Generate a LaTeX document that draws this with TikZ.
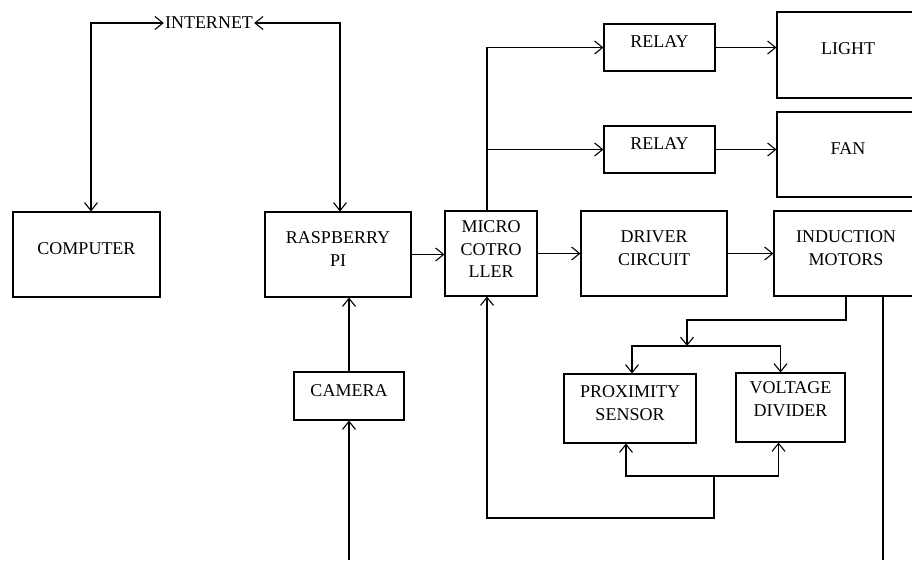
\documentclass[tikz,border=0pt]{standalone}
\usepackage{fontspec}
\setmainfont{Liberation Serif}
\usepackage{tikz}
\usetikzlibrary{arrows.meta,positioning}

\begin{document}
\begin{tikzpicture}[x=1pt,y=-1pt,
		every node/.style={font=\fontsize{18}{22.5}\selectfont},
		block/.style={draw, line width=1.1pt, align=center, inner sep=0pt, text depth=11pt},
		post/.style={-{Straight Barb[length=8pt,width=13pt]}, line width=1.1pt},
		both/.style={{Straight Barb[length=8pt,width=13pt]}-{Straight Barb[length=8pt,width=13pt]}, line width=1.1pt}]
		
		\useasboundingbox (0,0) rectangle (912,560);
		
		\node[inner sep=1pt] (inet) at (209,23) {INTERNET};
		
		\node[block, minimum width=147pt, minimum height=85pt] (comp) at (86.5,254.5) {COMPUTER};
		
		\node[block, minimum width=146pt, minimum height=85pt] (rpi) at (338,254.5) {RASPBERRY\\PI};
		
		\node[block, minimum width=92pt, minimum height=85pt, text depth=8pt] (mcu) at (491,253.5) {MICRO\\COTRO\\LLER};
		
		\node[block, minimum width=146pt, minimum height=85pt] (drv) at (654,253.5) {DRIVER\\CIRCUIT};
		
		\node[block, minimum width=144pt, minimum height=85pt] (ind) at (846,253.5) {INDUCTION\\MOTORS};
		
		\node[block, minimum width=111pt, minimum height=47pt] (rel1) at (659.5,47.5) {RELAY};
		
		\node[block, minimum width=111pt, minimum height=47pt] (rel2) at (659.5,149.5) {RELAY};
		
		\node[block, minimum width=142pt, minimum height=86pt, text depth=13pt] (light) at (848,55) {LIGHT};
		
		\node[block, minimum width=142pt, minimum height=85pt] (fan) at (848,154.5) {FAN};
		
		\node[block, minimum width=110pt, minimum height=48pt] (cam) at (349,396) {CAMERA};
		
		\node[block, minimum width=132pt, minimum height=69pt] (prox) at (630,408.5) {PROXIMITY\\SENSOR};
		
		\node[block, minimum width=109pt, minimum height=69pt, text depth=17pt] (volt) at (790.5,407.5) {VOLTAGE\\DIVIDER};
		
		% junctions
		\coordinate (m1) at ([xshift=-4pt]mcu.north);
		\coordinate (m2) at ([xshift=-4pt]mcu.south);
		\coordinate (j1) at (687,320);
		\coordinate (j2) at (687,346);
		\coordinate (j3) at (714,476);
		\coordinate (j4) at (714,518);
		\coordinate (camin) at (349,560);
		\coordinate (indout) at (883,560);
		
		\draw[both] ([xshift=4.5pt]comp.north) |- (inet.west);
		\draw[both] ([xshift=2pt]rpi.north) |- (inet.east);
		
		\draw[post] (rpi.east) -- (rpi.east -| mcu.west);
		\draw[post] (mcu.east) -- (mcu.east -| drv.west);
		\draw[post] (drv.east) -- (drv.east -| ind.west);
		
		\draw[post] (m1) |- (rel1.west);
		\draw[post] (m1 |- rel2.west) -- (rel2.west);
		\draw[post] (rel1.east) -- (rel1.east -| light.west);
		\draw[post] (rel2.east) -- (rel2.east -| fan.west);
		
		\draw[post] (camin) -- (cam.south);
		\draw[post] (cam.north) -- (cam.north |- rpi.south);
		
		\draw[post] (ind.south) |- (j1) -- (j2);
		\draw[post] (j2) -| ([xshift=2pt]prox.north);
		\draw[post] (j2) -| ([xshift=-10pt]volt.north);
		
		\draw[post] (j3) -| ([xshift=-4pt]prox.south);
		\draw[post] (j3) -| ([xshift=-12pt]volt.south);
		\draw[post] (j3) -- (j4) -| (m2);
		
		\draw[line width=1.1pt] ([xshift=37pt]ind.south) -- (indout);
		
	\end{tikzpicture}
\end{document}
